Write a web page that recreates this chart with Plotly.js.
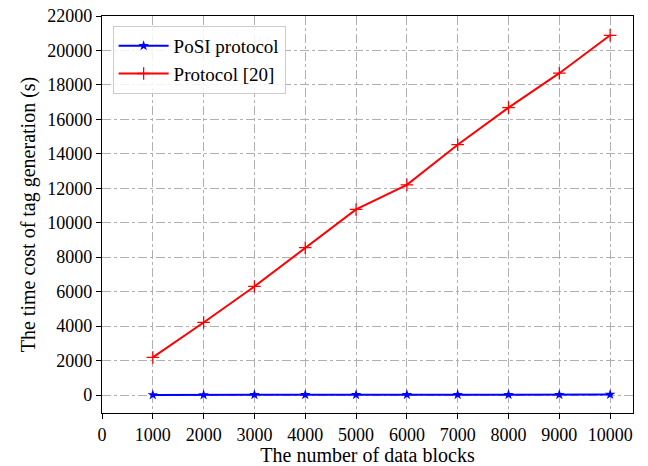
<!DOCTYPE html>
<html><head><meta charset="utf-8">
<script src="https://cdn.plot.ly/plotly-3.0.1.min.js"></script>
<style>html,body{margin:0;padding:0;background:#fff}#chart{width:648px;height:466px}</style>
</head><body><div id="chart"></div>
<script>
const blocks = [1000, 2000, 3000, 4000, 5000, 6000, 7000, 8000, 9000, 10000];
const posiTime = [5, 8, 10, 12, 14, 16, 18, 20, 22, 24];
const protocol20Time = [2180, 4210, 6300, 8550, 10770, 12200, 14530, 16680, 18680, 20880];
const xTicks = [0, 1000, 2000, 3000, 4000, 5000, 6000, 7000, 8000, 9000, 10000];
const yTicks = [0, 2000, 4000, 6000, 8000, 10000, 12000, 14000, 16000, 18000, 20000, 22000];

const FAM = 'Liberation Serif';
const traces = [
  {x: blocks, y: posiTime, name: 'PoSI protocol', mode: 'lines+markers',
   line: {color: '#0000ff', width: 2}, marker: {symbol: 'star', size: 8, color: '#0000ff'}},
  {x: blocks, y: protocol20Time, name: 'Protocol [20]', mode: 'lines+markers',
   line: {color: '#ff0000', width: 2}, marker: {symbol: 'cross-thin-open', size: 9, line: {color: '#ff0000', width: 1.3}}}
];
function axisCommon() {
  return {showline: true, mirror: true, linecolor: '#000', linewidth: 1.2,
    ticks: 'outside', ticklen: 5, tickcolor: '#000', tickwidth: 1,
    showgrid: true, gridcolor: '#b0b0b0', griddash: 'dashdot', gridwidth: 1, zeroline: false,
    tickfont: {family: FAM, size: 18, color: '#000'}};
}
const layout = {
  width: 648, height: 466,
  margin: {l: 102, r: 15, t: 16, b: 53},
  paper_bgcolor: '#fff', plot_bgcolor: '#fff',
  font: {family: FAM, color: '#000', size: 18},
  showlegend: true,
  legend: {x: 0.02, y: 0.975, xanchor: 'left', yanchor: 'top', bgcolor: 'rgba(255,255,255,0.85)',
    bordercolor: '#cccccc', borderwidth: 1, font: {family: FAM, size: 19, color: '#000'},
    tracegroupgap: 2, itemwidth: 50},
  xaxis: Object.assign(axisCommon(), {range: [0, 10450], tickvals: xTicks, ticktext: xTicks.map(String),
    title: {text: 'The number of data blocks', font: {family: FAM, size: 20, color: '#000'}, standoff: 5}}),
  yaxis: Object.assign(axisCommon(), {range: [-1045, 22000], tickvals: yTicks, ticktext: yTicks.map(String),
    title: {text: 'The time cost of tag generation (s)', font: {family: FAM, size: 20, color: '#000'}, standoff: 6}})
};
Plotly.newPlot('chart', traces, layout, {displayModeBar: false, staticPlot: true});
</script>
</body></html>
